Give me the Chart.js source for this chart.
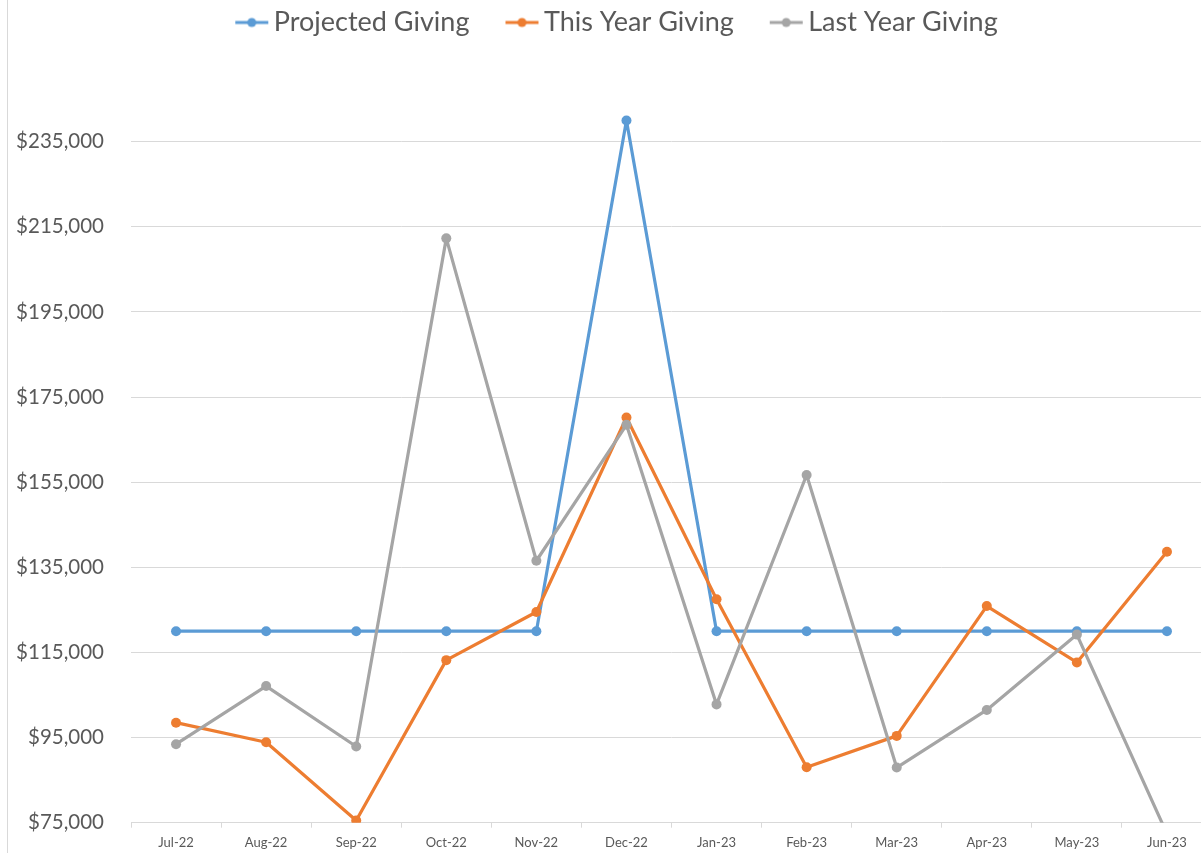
<!DOCTYPE html>
<html><head><meta charset="utf-8">
<script src="https://cdn.jsdelivr.net/npm/chart.js@4.4.1/dist/chart.umd.min.js"></script>
<style>
html,body{margin:0;padding:0;background:#fff;overflow:hidden;width:1201px;height:853px;}
#wrap{position:absolute;left:0;top:0;width:1217px;height:853px;}
#edge{position:absolute;left:7px;top:0;width:1px;height:853px;background:#d9d9d9;}
</style></head><body>
<div id="wrap"><canvas id="c" width="1217" height="853"></canvas></div>
<div id="edge"></div>
<script>
const categories = ['Jul-22','Aug-22','Sep-22','Oct-22','Nov-22','Dec-22','Jan-23','Feb-23','Mar-23','Apr-23','May-23','Jun-23'];
const projectedGiving = [120000,120000,120000,120000,120000,240000,120000,120000,120000,120000,120000,120000];
const thisYearGiving = [98500,93900,75500,113200,124500,170200,127500,88050,95400,125900,112650,138650];
const lastYearGiving = [93450,107100,92900,212300,136550,168500,102800,156700,87950,101500,119200,72400];
const yTickValues = [75000,95000,115000,135000,155000,175000,195000,215000,235000];
const seriesNames = ['Projected Giving','This Year Giving','Last Year Giving'];
const seriesColors = ['#5B9BD5','#ED7D31','#A5A5A5'];

function makeMarker(color){
  const cv = document.createElement('canvas');
  cv.width = 61; cv.height = 12;
  const g = cv.getContext('2d');
  g.strokeStyle = color; g.lineWidth = 3;
  g.beginPath(); g.moveTo(26,6); g.lineTo(59,6); g.stroke();
  g.fillStyle = color;
  g.beginPath(); g.arc(42.5,6,4.5,0,Math.PI*2); g.fill();
  return cv;
}

function build(){
  const seriesData = [projectedGiving, thisYearGiving, lastYearGiving];
  const datasets = seriesData.map((d,i)=>({
    label: seriesNames[i], data: d,
    borderColor: seriesColors[i], backgroundColor: seriesColors[i],
    borderWidth: 3.2, pointRadius: 5, pointBorderWidth: 0,
    borderJoinStyle: 'round', borderCapStyle: 'round',
    pointBackgroundColor: seriesColors[i], tension: 0, order: 3 - i
  }));
  new Chart(document.getElementById('c'), {
    type: 'line',
    data: { labels: categories, datasets },
    options: {
      responsive: false, animation: false, devicePixelRatio: 1,
      layout: { padding: { top: -11, left: 0, right: 0, bottom: 0 } },
      plugins: {
        tooltip: { enabled: false },
        legend: {
          position: 'top',
          labels: {
            usePointStyle: true, pointStyleWidth: 41, padding: 20,
            color: '#595959', font: { family: 'Lato', size: 27 },
            generateLabels: chart => chart.data.datasets.map((ds,i)=>({
              text: ds.label, pointStyle: makeMarker(ds.borderColor),
              fillStyle: ds.borderColor, strokeStyle: ds.borderColor,
              lineWidth: 0, hidden: false, datasetIndex: i, fontColor: '#595959'
            }))
          }
        }
      },
      scales: {
        x: {
          offset: true,
          afterFit: s => { s.height = 30.3; s.paddingLeft = 0; s.paddingRight = 0; },
          grid: { offset: true, drawOnChartArea: false, drawTicks: true, tickLength: 5, color: '#d9d9d9' },
          border: { display: true, color: '#d9d9d9' },
          ticks: { padding: 7, color: '#595959', font: { family: 'Lato', size: 13 }, maxRotation: 0, autoSkip: false }
        },
        y: {
          min: 75000, max: 257500,
          afterFit: s => { s.width = 131; s.paddingTop = 0; s.paddingBottom = 0; },
          afterBuildTicks: s => { s.ticks = yTickValues.map(v => ({ value: v })); },
          grid: { color: '#d9d9d9', lineWidth: 1, drawTicks: false },
          border: { display: false },
          ticks: { padding: 27, color: '#595959', font: { family: 'Lato', size: 20.5 },
                   callback: v => '$' + Number(v).toLocaleString('en-US') }
        }
      }
    }
  });
}
Promise.all([document.fonts.load('20px Lato'), document.fonts.load('27px Lato')]).then(build, build);
</script>
</body></html>
